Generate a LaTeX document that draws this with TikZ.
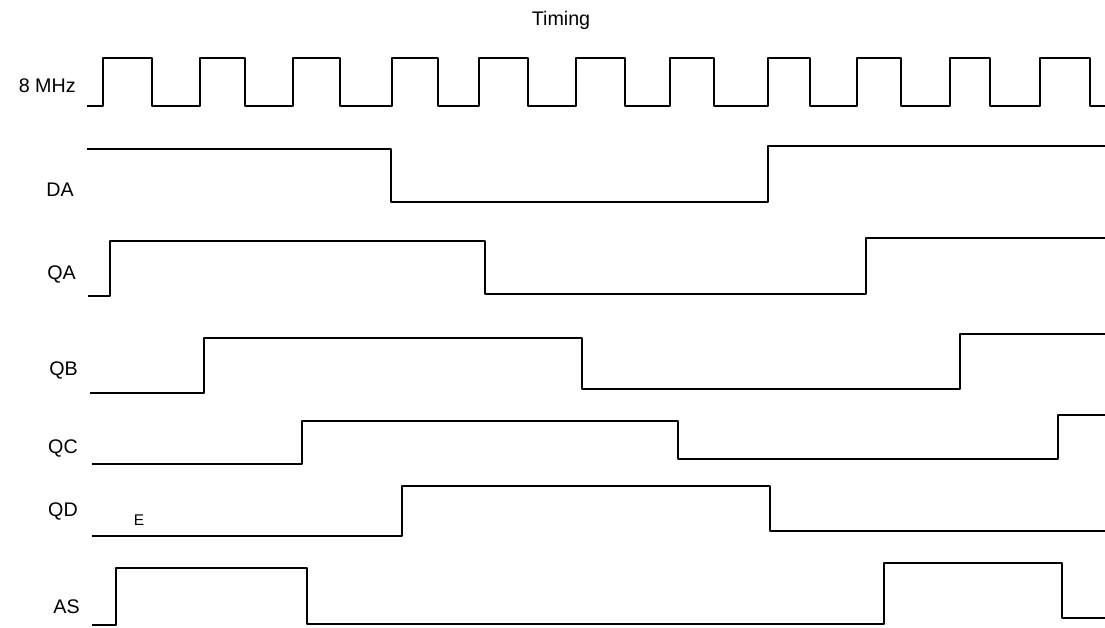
\documentclass[tikz,border=0pt]{standalone}
\usepackage{fontspec}
\setmainfont{Liberation Sans}
\usepackage{tikz}
\usetikzlibrary{positioning}

\tikzset{
  wave/.style={line width=1.9pt,line join=round},
  siglabel/.style={anchor=east,inner sep=0pt,font=\fontsize{14}{16}\selectfont}
}

\begin{document}
\begin{tikzpicture}[x=0.025cm,y=-0.025cm]
  \useasboundingbox (0,0) rectangle (1105,627);
  \node[inner sep=0pt,font=\fontsize{14}{16}\selectfont] (title) at (561,20) {Timing};
  % signal names
  \node[siglabel] (lclk) at (76,86) {8 MHz};
  \node[siglabel] (lda) at (74,190) {DA};
  \node[siglabel] (lqa) at (76,274) {QA};
  \node[siglabel] (lqb) at (78,370) {QB};
  \node[siglabel] (lqc) at (78,448) {QC};
  \node[siglabel] (lqd) at (78,511) {QD};
  \node[siglabel] (las) at (80,607) {AS};
  \node[inner sep=0pt,font=\fontsize{11}{13}\selectfont] (le) at (139,520) {E};
  % clock
  \draw[wave] (87,106)
    \foreach \r/\f in {103/152,200/245,293/340,392/438,479/528,576/625,670/714,768/810,857/901,950/990,1040/1090}
      { -- (\r,106) -- (\r,58) -- (\f,58) -- (\f,106) } -- (1105,106);
  % DA
  \draw[wave] (87,149) -- (391,149) -- (391,202) -- (768,202) -- (768,146) -- (1105,146);
  % QA
  \draw[wave] (88,296) -- (110,296) -- (110,241) -- (485,241) -- (485,294) -- (866,294) -- (866,238) -- (1105,238);
  % QB
  \draw[wave] (90,393) -- (204,393) -- (204,338) -- (582,338) -- (582,389) -- (960,389) -- (960,334) -- (1105,334);
  % QC
  \draw[wave] (92,464) -- (302,464) -- (302,421) -- (678,421) -- (678,459) -- (1058,459) -- (1058,415) -- (1105,415);
  % QD
  \draw[wave] (92,536) -- (402,536) -- (402,486) -- (770,486) -- (770,531) -- (1105,531);
  % AS
  \draw[wave] (92,625) -- (116,625) -- (116,568) -- (307,568) -- (307,624) -- (884,624) -- (884,563) -- (1062,563) -- (1062,618) -- (1105,618);
\end{tikzpicture}
\end{document}
